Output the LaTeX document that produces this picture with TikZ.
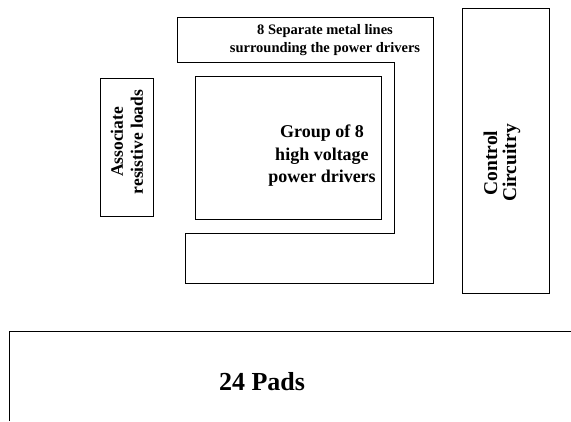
\documentclass[tikz,border=0pt]{standalone}
\usepackage{fontspec}
\setmainfont{Liberation Serif}
\begin{document}
\begin{tikzpicture}[x=1pt,y=-1pt,
  box/.style={draw=black,line width=0.9pt},
  lbl/.style={font=\bfseries,align=center,inner sep=0pt}]
\useasboundingbox (0,0) rectangle (571,421);
% metal lines shape
\draw[box] (177,17) -- (433,17) -- (433,283) -- (185,283) -- (185,233) -- (394,233) -- (394,62) -- (177,62) -- cycle;
% boxes
\draw[box] (195,76) rectangle (381,219);
\draw[box] (100,78) rectangle (153,216);
\draw[box] (462,8) rectangle (549,293);
\draw[box] (9,421) -- (9,331) -- (571,331);
% labels
\node[lbl,font=\bfseries\fontsize{14.5}{18}\selectfont] (metal) at (325,40) {8 Separate metal lines\\surrounding the power drivers};
\node[lbl,font=\bfseries\fontsize{18}{22.5}\selectfont] (group) at (322,156) {Group of 8\\high voltage\\power drivers};
\node[lbl,font=\bfseries\fontsize{17.5}{20}\selectfont,rotate=90] (assoc) at (127,142) {Associate\\resistive loads};
\node[lbl,font=\bfseries\fontsize{19.5}{19}\selectfont,rotate=90] (ctrl) at (502,163) {Control\\Circuitry};
\node[lbl,font=\bfseries\fontsize{26}{30}\selectfont] (pads) at (262,382) {24 Pads};
\end{tikzpicture}
\end{document}
